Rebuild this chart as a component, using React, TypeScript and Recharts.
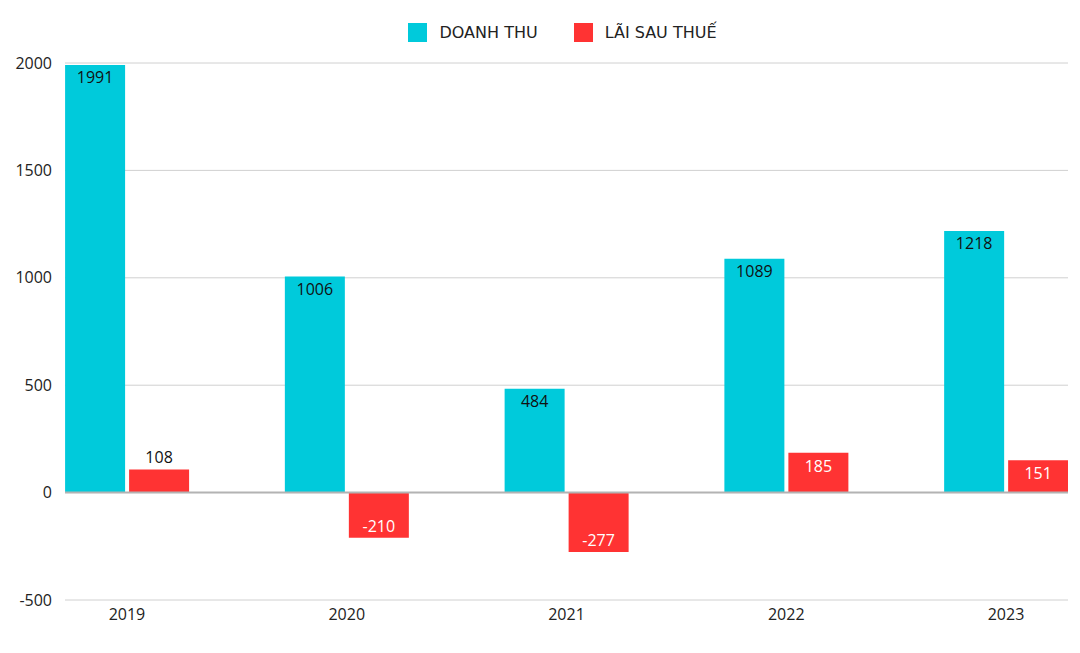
import React from "react";
import {
  Bar,
  BarChart,
  CartesianGrid,
  LabelList,
  ReferenceLine,
  XAxis,
  YAxis,
} from "recharts";

const YEARS = ["2019", "2020", "2021", "2022", "2023"];
const DOANH_THU = [1991, 1006, 484, 1089, 1218];
const LAI_SAU_THUE = [108, -210, -277, 185, 151];
const Y_TICKS = [-500, 0, 500, 1000, 1500, 2000];

const CYAN = "#00cadb";
const RED = "#ff3333";
const FONT = "'Open Sans', sans-serif";

const data = YEARS.map((year, i) => ({
  idx: i,
  year,
  revenue: DOANH_THU[i],
  profit: LAI_SAU_THUE[i],
}));

function LegendBox() {
  const items = [
    { label: "DOANH THU", color: CYAN },
    { label: "LÃI SAU THUẾ", color: RED },
  ];
  return (
    <div
      style={{
        position: "absolute",
        top: 23,
        left: 0,
        width: 1080,
        paddingLeft: 45,
        boxSizing: "border-box",
        display: "flex",
        justifyContent: "center",
        gap: 36,
        fontFamily: "'DejaVu Sans', sans-serif",
        fontSize: 16,
        lineHeight: "19px",
        color: "#222",
      }}
    >
      {items.map((it) => (
        <div key={it.label} style={{ display: "flex", alignItems: "center", gap: 12 }}>
          <span style={{ width: 19, height: 19, background: it.color, display: "inline-block" }} />
          <span>{it.label}</span>
        </div>
      ))}
    </div>
  );
}

function ProfitLabel(props: any) {
  const { x, y, width, height, value } = props;
  const top = Math.min(y, y + height);
  const bottom = Math.max(y, y + height);
  const h = bottom - top;
  const cx = x + width / 2;
  let ty: number;
  let fill = "#fff";
  if (value < 0) {
    ty = bottom - 12;
  } else if (h < 28) {
    ty = top - 12;
    fill = "#111";
  } else {
    ty = top + 13;
  }
  return (
    <text x={cx} y={ty} textAnchor="middle" dominantBaseline="central" fill={fill} fontFamily={FONT} fontSize={16}>
      {value}
    </text>
  );
}

function RevenueLabel(props: any) {
  const { x, y, width, value } = props;
  return (
    <text x={x + width / 2} y={y + 12} textAnchor="middle" dominantBaseline="central" fill="#111" fontFamily={FONT} fontSize={16}>
      {value}
    </text>
  );
}

export default function App() {
  return (
    <div style={{ position: "absolute", left: 0, top: 0, width: 1080, height: 653, background: "#fff" }}>
      <BarChart width={1080} height={653} data={data} margin={{ top: 63, right: 12, bottom: 0, left: 0 }} barGap={4}>
        <CartesianGrid horizontal vertical={false} stroke="#d0d0d0" />
        <XAxis
          dataKey="idx"
          type="number"
          domain={[-0.282, 4.282]}
          allowDataOverflow
          ticks={[0, 1, 2, 3, 4]}
          tickFormatter={(v) => YEARS[v]}
          axisLine={false}
          tickLine={false}
          tickSize={0}
          tickMargin={9}
          height={53}
          tick={{ fill: "#222", fontFamily: FONT, fontSize: 16 }}
        />
        <YAxis
          domain={[-500, 2000]}
          ticks={Y_TICKS}
          width={65}
          axisLine={false}
          tickLine={false}
          tickSize={0}
          tickMargin={13}
          tick={{ fill: "#222", fontFamily: FONT, fontSize: 16 }}
        />
        <ReferenceLine y={0} stroke="#b3b3b3" strokeWidth={2} />
        <Bar dataKey="revenue" name="DOANH THU" fill={CYAN} barSize={60} isAnimationActive={false}>
          <LabelList dataKey="revenue" content={RevenueLabel} />
        </Bar>
        <Bar dataKey="profit" name="LÃI SAU THUẾ" fill={RED} barSize={60} isAnimationActive={false}>
          <LabelList dataKey="profit" content={ProfitLabel} />
        </Bar>
      </BarChart>
      <LegendBox />
    </div>
  );
}
